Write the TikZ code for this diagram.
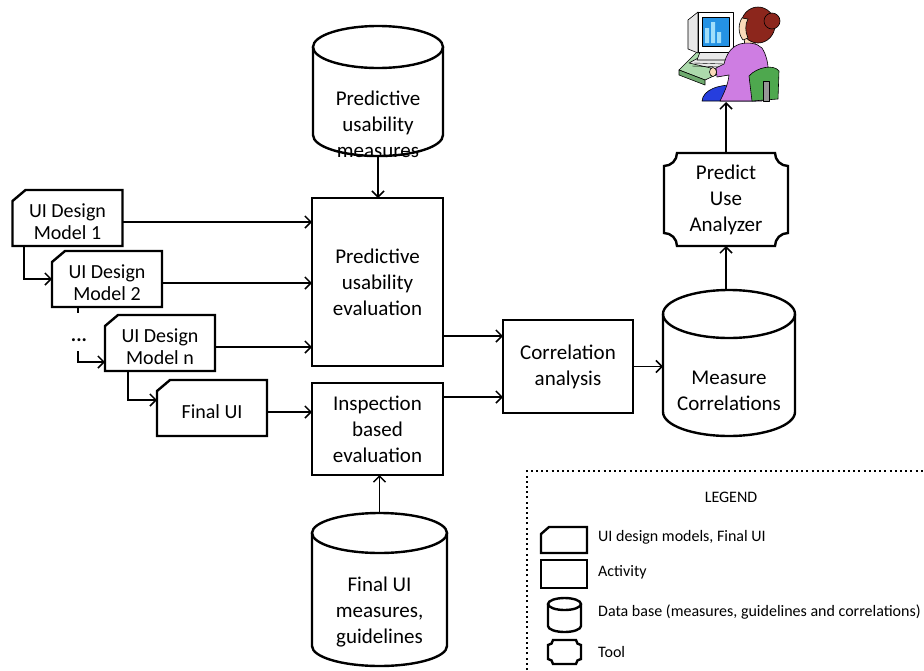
\documentclass[tikz,border=0pt]{standalone}
\usepackage{fontspec}
\setmainfont{Carlito}
\usetikzlibrary{arrows.meta,calc}

\definecolor{hair}{RGB}{140,38,28}
\definecolor{skin}{RGB}{250,218,185}
\definecolor{shirt}{RGB}{206,125,226}
\definecolor{skirt}{RGB}{38,62,222}
\definecolor{chair}{RGB}{78,168,78}
\definecolor{desk}{RGB}{172,218,172}
\definecolor{deskdark}{RGB}{110,170,110}
\definecolor{screen}{RGB}{36,146,228}
\definecolor{bars}{RGB}{160,222,250}
\definecolor{case}{RGB}{232,232,232}
\definecolor{post}{RGB}{150,150,150}

% document shape: cut top-left corner; #2 = extension above north, #3/#4 = cut size
\newcommand\docoutline[4]{%
  \draw[boxline] (#1.south west) -- ([yshift=#2-#4]#1.north west)
    -- ([xshift=#3,yshift=#2]#1.north west) -- ([yshift=#2]#1.north east)
    -- (#1.south east) -- cycle;}
% data base cylinder: #2 = x radius, #3 = y radius
\newcommand\dboutline[3]{%
  \draw[boxline] ([yshift=-#3]#1.north west) -- ([yshift=#3]#1.south west)
    arc[start angle=180,end angle=360,x radius=#2,y radius=#3]
    -- ([yshift=-#3]#1.north east);
  \draw[boxline] ([yshift=-#3]#1.north) ellipse[x radius=#2,y radius=#3];}
% tool shape: rectangle with concave corners of radius #2
\newcommand\tooloutline[2]{%
  \draw[boxline] ([xshift=#2]#1.north west) -- ([xshift=-#2]#1.north east)
    arc[start angle=180,end angle=270,radius=#2] -- ([yshift=#2]#1.south east)
    arc[start angle=90,end angle=180,radius=#2] -- ([xshift=#2]#1.south west)
    arc[start angle=0,end angle=90,radius=#2] -- ([yshift=-#2]#1.north west)
    arc[start angle=270,end angle=360,radius=#2] -- cycle;}

\begin{document}
\begin{tikzpicture}[x=1pt,y=1pt,
  boxline/.style={line width=2.4pt},
  conn/.style={line width=1.3pt},
  tip/.style={-{Straight Barb[length=6pt,width=12pt,line width=1.5pt]}},
  arr/.style={conn,tip},
  chain/.style={line width=2pt,tip},
  bigtext/.style={font=\fontsize{21}{26}\selectfont,align=center,inner sep=0pt},
  actbox/.style={draw,boxline,bigtext,outer sep=0pt},
  plain/.style={inner sep=0pt,outer sep=0pt},
  docbox/.style={plain,minimum width=110,minimum height=48,align=center,
    font=\fontsize{20}{22}\selectfont},
  legtext/.style={anchor=west,inner sep=0pt,font=\fontsize{16}{18}\selectfont},
  art/.style={draw=black,line width=0.6pt,line join=round}]
\useasboundingbox (0,0) rectangle (924,-670);

% activities
\node[actbox,minimum width=131,minimum height=168] (pue) at (377.5,-282)
  {Predictive\\usability\\evaluation};
\node[actbox,minimum width=131,minimum height=92] (ibe) at (377.5,-429)
  {Inspection\\based\\evaluation};
\node[actbox,minimum width=130,minimum height=93] (ca) at (568,-366.5)
  {Correlation\\analysis};

% data bases
\node[plain,minimum width=130,minimum height=130] (pum) at (378,-91) {};
\dboutline{pum}{65}{21}
\node[bigtext] (pumt) at (378,-124) {Predictive\\usability\\measures};

\node[plain,minimum width=132,minimum height=146] (mc) at (729,-363) {};
\dboutline{mc}{66}{24}
\node[bigtext] (mct) at (729,-390.5) {Measure\\Correlations};

\node[plain,minimum width=135,minimum height=153] (fum) at (379.5,-589.5) {};
\dboutline{fum}{67.5}{20}
\node[bigtext] (fumt) at (379.5,-612) {Final UI\\measures,\\guidelines};

% tool
\node[plain,minimum width=124,minimum height=93] (tool) at (726,-199.5) {};
\tooloutline{tool}{13}
\node[bigtext] (toolt) at (726,-200) {Predict\\Use\\Analyzer};

% UI design models
\node[docbox] (d1) at (67.5,-222) {UI Design\\Model 1};
\docoutline{d1}{8}{13}{11}
\node[docbox] (d2) at (107,-283) {UI Design\\Model 2};
\docoutline{d2}{8}{13}{11}
\node[docbox] (d3) at (160,-347) {UI Design\\Model n};
\docoutline{d3}{8}{13}{11}
\node[docbox] (d4) at (212,-412) {Final UI};
\docoutline{d4}{8}{13}{11}
\node[inner sep=0pt,font=\fontsize{20}{20}\selectfont\bfseries] (dots) at (79,-340) {...};
\coordinate (dd) at (78,-351);

% user at the workstation
\node[plain,minimum width=102,minimum height=97] (user) at (729,-53.5) {};
\begin{scope}
  % desk and keyboard
  \fill[desk,art] (679,-70) -- (699,-50) -- (739,-50) -- (739,-64) -- (705,-80) -- cycle;
  \fill[deskdark,art] (679,-70) -- (705,-80) -- (705,-85) -- (679,-75) -- cycle;
  \fill[case,art] (689,-63) -- (700,-57) -- (728,-58) -- (724,-71) -- cycle;
  \draw[line width=0.4pt] (694,-63) -- (724,-64) (692,-66) -- (722,-67);
  % monitor
  \fill[case,art] (688,-20) -- (698,-12) -- (698,-53) -- (688,-49) -- cycle;
  \fill[case,art] (700,-52) -- (733,-52) -- (736,-60) -- (697,-60) -- cycle;
  \fill[white,art] (698,-12) rectangle (733,-52);
  \fill[screen,art] (702,-17) rectangle (729,-46);
  \fill[bars] (705,-28) rectangle (709,-43) (711,-22) rectangle (715,-43)
    (717,-32) rectangle (721,-43);
  % person
  \fill[skirt,art] (702,-101) .. controls (703,-90) and (718,-84) .. (738,-85)
    -- (756,-92) -- (756,-101) -- cycle;
  \fill[skin,art] (744,-36) -- (754,-38) -- (756,-48) -- (745,-48) -- cycle;
  \fill[shirt,art] (740,-44) .. controls (730,-47) and (726,-56) .. (724,-64)
    -- (716,-68) -- (717,-77) -- (729,-75)
    .. controls (728,-85) and (724,-93) .. (720,-101) -- (762,-101)
    .. controls (770,-86) and (771,-62) .. (762,-48)
    .. controls (757,-43) and (748,-42) .. (740,-44) -- cycle;
  \fill[skin,art] (713,-72) ellipse[x radius=3.5,y radius=4.5];
  \fill[hair,art] (758,-25) ellipse[x radius=17,y radius=18];
  \fill[hair,art] (772,-21) circle[radius=8];
  \fill[skin,art] (742,-18) .. controls (738,-24) and (738,-34) .. (743,-40)
    -- (748,-38) .. controls (745,-32) and (745,-24) .. (748,-19) -- cycle;
  % chair
  \fill[chair,art] (749,-76) .. controls (757,-67) and (774,-64) .. (779,-71)
    -- (778,-99) -- (752,-101) -- cycle;
  \fill[post,art] (763,-81) rectangle (769,-101);
\end{scope}

% connectors
\draw[arr] (pum.south) -- (pum.south |- pue.north);
\draw[arr] (d1.east) -- (d1.east -| pue.west);
\draw[arr] (d2.east) -- (d2.east -| pue.west);
\draw[arr] (d3.east) -- (d3.east -| pue.west);
\draw[arr] (d4.east) -- (d4.east -| ibe.west);
\draw[chain] ([xshift=11]d1.south west) |- ([yshift=4]d2.west);
\draw[line width=2pt] ([xshift=26]d2.south west) -- ++(0,-6);
\draw[chain] (dd) |- ([yshift=-15]d3.west);
\draw[chain] ([xshift=23]d3.south west) |- ([yshift=12]d4.west);
\coordinate (p1) at ([yshift=-54]pue.east);
\draw[arr] (p1) -- (p1 -| ca.west);
\coordinate (p2) at ([yshift=32]ibe.east);
\draw[arr] (p2) -- (p2 -| ca.west);
\draw[arr] (fum.north) -- (fum.north |- ibe.south);
\draw[arr] (ca.east) -- (ca.east -| mc.west);
\draw[arr] (tool.south |- mc.north) -- (tool.south);
\draw[arr] (tool.north) -- (tool.north |- user.south);

% legend
\draw[line width=2pt,dash pattern=on 2pt off 3.2pt] (527,-670) -- (527,-471) -- (924,-471);
\node[inner sep=0pt,font=\fontsize{16}{18}\selectfont] (lgt) at (731,-497) {LEGEND};
\node[plain,minimum width=46,minimum height=26] (lg1) at (564,-540) {};
\docoutline{lg1}{0}{8}{7}
\node[legtext] (lg1t) at (598,-537) {UI design models, Final UI};
\node[plain,draw,line width=2.2pt,minimum width=46,minimum height=28] (lg2) at (564,-574) {};
\node[legtext] (lg2t) at (598,-572) {Activity};
\node[plain,minimum width=33,minimum height=34] (lg3) at (564.5,-615) {};
\dboutline{lg3}{16.5}{6}
\node[legtext] (lg3t) at (598,-612) {Data base (measures, guidelines and correlations)};
\node[plain,minimum width=33,minimum height=24] (lg4) at (564.5,-652) {};
\tooloutline{lg4}{5}
\node[legtext] (lg4t) at (598,-652) {Tool};
\end{tikzpicture}
\end{document}
